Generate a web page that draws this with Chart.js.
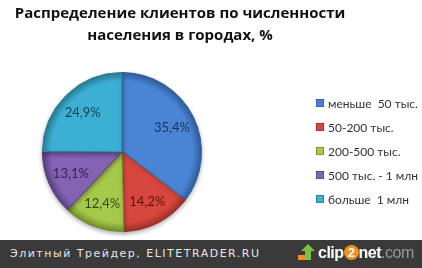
<!DOCTYPE html>
<html>
<head>
<meta charset="utf-8">
<script src="https://cdn.jsdelivr.net/npm/chart.js@4/dist/chart.umd.min.js"></script>
<style>
  html, body { margin: 0; padding: 0; background: #fff; }
  #wrap { position: relative; width: 422px; height: 268px; overflow: hidden; }
  #pie { position: absolute; left: 0; top: 0; }
  #title {
    position: absolute; left: 0; top: 1px; width: 360px; text-align: center;
    font-family: "Open Sans", sans-serif; font-weight: bold; font-size: 15px; line-height: 22px; color: #111;
    letter-spacing: 0px;
  }
  #legend { position: absolute; left: 316px; top: 97px; margin: 0; padding: 0; list-style: none; }
  #legend li {
    height: 24px; line-height: 14px; font-family: Lato, sans-serif; font-size: 12px; color: #333;
    white-space: pre;
  }
  #legend span.box {
    display: inline-block; width: 6px; height: 6px; margin-right: 4px; vertical-align: 1px;
    border: 1px solid rgba(0,0,0,0.25);
  }
  #footer {
    position: absolute; left: 0; top: 240px; width: 422px; height: 28px; background: #3a3a3a;
  }
  #footer .site {
    position: absolute; left: 10px; top: 7px; color: #e6e6e6;
    font-family: "DejaVu Sans", sans-serif; font-size: 11px; letter-spacing: 1.5px;
  }
  #footer .logo {
    position: absolute; left: 297px; top: 3px; height: 22px;
    font-family: "Liberation Sans", Arial, sans-serif; font-weight: bold; font-size: 16px; color: #fff;
    letter-spacing: -0.5px;
  }
  #footer .logo svg { vertical-align: -3px; margin-right: 3px; }
  #footer .two {
    display: inline-block; width: 15px; height: 15px; border-radius: 50%; background: #f0901e;
    color: #fff; font-size: 13px; line-height: 15px; text-align: center; vertical-align: 1px;
  }
  #footer .com { color: #9a9a9a; font-weight: normal; }
</style>
</head>
<body>
<div id="wrap">
  <canvas id="pie" width="422" height="240"></canvas>
  <div id="title">Распределение клиентов по численности<br>населения в городах, %</div>
  <ul id="legend"></ul>
  <div id="footer">
    <div class="site">Элитный Трейдер, ELITETRADER.RU</div>
    <div class="logo"><svg width="18" height="18" viewBox="0 0 18 18">
        <rect x="1" y="12" width="9" height="5" fill="#f0901e"/>
        <polygon points="11,1 18,8 14,8 14,17 8,17 8,8 4,8" fill="#7cc242"/>
      </svg>clip<span class="two">2</span>net<span class="com">.com</span></div>
  </div>
</div>
<script>
// данные
const categorias = ["меньше  50 тыс.", "50-200 тыс.", "200-500 тыс.", "500 тыс. - 1 млн", "больше  1 млн"];
const valores = [35.4, 14.2, 12.4, 13.1, 24.9];

// colores
const colores = ["#4a84d4", "#d8473d", "#a5c94a", "#8662b4", "#3cb0d4"];
const coloresBorde = ["#2f5f9e", "#9a2f28", "#6f8c2c", "#5a3f80", "#2a7e9a"];
const coloresTexto = ["#1c3358", "#5a1410", "#34461a", "#33224d", "#173f4d"];

function formatoPct(v) {
  return v.toFixed(1).replace(".", ",") + "%";
}

function gradiente(context) {
  const chart = context.chart;
  const area = chart.chartArea;
  const base = colores[context.dataIndex];
  if (!area) return base;
  const cx = (area.left + area.right) / 2;
  const cy = (area.top + area.bottom) / 2;
  const r = Math.min(area.right - area.left, area.bottom - area.top) / 2;
  const g = chart.ctx.createRadialGradient(cx, cy, 0, cx, cy, r);
  g.addColorStop(0, base);
  g.addColorStop(0.88, base);
  g.addColorStop(1, coloresBorde[context.dataIndex]);
  return g;
}

const etiquetas = {
  id: "etiquetas",
  afterDatasetsDraw(chart) {
    const ctx = chart.ctx;
    const meta = chart.getDatasetMeta(0);
    ctx.save();
    ctx.font = "13px Lato, sans-serif";
    ctx.textAlign = "center";
    ctx.textBaseline = "middle";
    meta.data.forEach((arc, i) => {
      const mid = (arc.startAngle + arc.endAngle) / 2;
      const r = arc.outerRadius * 0.7;
      ctx.fillStyle = coloresTexto[i];
      ctx.fillText(formatoPct(valores[i]), arc.x + Math.cos(mid) * r, arc.y + Math.sin(mid) * r);
    });
    ctx.restore();
  }
};

const sombra = {
  id: "sombra",
  beforeDatasetsDraw(chart) {
    const ctx = chart.ctx;
    ctx.save();
    ctx.shadowColor = "rgba(0,0,0,0.3)";
    ctx.shadowBlur = 4;
    ctx.shadowOffsetY = 2;
  },
  afterDatasetsDraw(chart) {
    chart.ctx.restore();
  }
};

new Chart(document.getElementById("pie"), {
  type: "pie",
  data: {
    labels: categorias,
    datasets: [{
      data: valores,
      backgroundColor: gradiente,
      borderColor: coloresBorde,
      borderWidth: 1,
      hoverOffset: 0
    }]
  },
  options: {
    responsive: false,
    animation: false,
    devicePixelRatio: 1,
    layout: { padding: { left: 42, right: 220, top: 72, bottom: 8 } },
    plugins: {
      legend: { display: false },
      title: { display: false },
      tooltip: { enabled: false }
    }
  },
  plugins: [sombra, etiquetas]
});

const lista = document.getElementById("legend");
categorias.forEach((c, i) => {
  const li = document.createElement("li");
  const box = document.createElement("span");
  box.className = "box";
  box.style.background = colores[i];
  li.appendChild(box);
  li.appendChild(document.createTextNode(c));
  lista.appendChild(li);
});
</script>
</body>
</html>
